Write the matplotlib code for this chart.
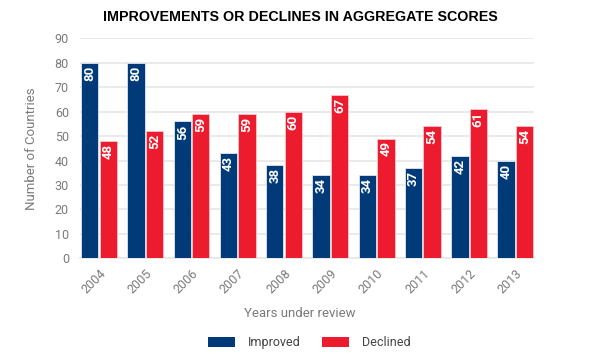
import numpy as np
import matplotlib.pyplot as plt
from matplotlib.patches import Patch

years = ["2004", "2005", "2006", "2007", "2008", "2009", "2010", "2011", "2012", "2013"]
improved = [80, 80, 56, 43, 38, 34, 34, 37, 42, 40]
declined = [48, 52, 59, 59, 60, 67, 49, 54, 61, 54]

blue = "#003a78"
red = "#ec1c2e"
grey = "#7a7a7a"

plt.rcParams["font.family"] = ["Roboto", "DejaVu Sans"]

fig = plt.figure(figsize=(6, 3.57), dpi=100)
ax = fig.add_axes([0.1335, 0.2765, 0.757, 0.6162])

x = np.arange(len(years))
w = 0.375
ax.bar(x - 0.2, improved, w, color=blue, edgecolor="#dfe6f0", linewidth=0.6, zorder=3)
ax.bar(x + 0.2, declined, w, color=red, edgecolor="#f7c6cb", linewidth=0.6, zorder=3)

for xi, v in zip(x, improved):
    ax.text(xi - 0.2, v - 1.2, str(v), rotation=90, ha="center", va="top",
            color="white", fontsize=9.5, fontweight="bold", zorder=4)
for xi, v in zip(x, declined):
    ax.text(xi + 0.2, v - 1.2, str(v), rotation=90, ha="center", va="top",
            color="white", fontsize=9.5, fontweight="bold", zorder=4)

ax.set_xlim(-0.41, 9.41)
ax.set_ylim(0, 90)
ax.set_yticks(range(0, 91, 10))
ax.set_xticks(x)
ax.set_xticklabels(years, rotation=45, ha="right", rotation_mode="anchor")
ax.tick_params(axis="both", length=0, colors=grey, labelsize=9)
ax.tick_params(axis="y", pad=8)
ax.tick_params(axis="x", pad=6)
ax.yaxis.grid(True, color="#e6e6e6", linewidth=1.2, zorder=0)
for s in ["top", "right", "left"]:
    ax.spines[s].set_visible(False)
ax.spines["bottom"].set_color("#e6e6e6")
ax.spines["bottom"].set_linewidth(1.2)

ax.set_ylabel("Number of Countries", color=grey, fontsize=9.5, labelpad=12)
fig.text(0.5, 0.122, "Years under review", ha="center", va="center", color=grey, fontsize=9.5)

fig.text(0.5, 0.952, "IMPROVEMENTS OR DECLINES IN AGGREGATE SCORES", ha="center", va="center",
         fontsize=10.3, fontweight="bold", family="Liberation Sans", color="black")

handles = [Patch(facecolor=blue, label="Improved"), Patch(facecolor=red, label="Declined")]
fig.legend(handles=handles, loc="center", bbox_to_anchor=(0.515, 0.04), ncol=2, frameon=False,
           fontsize=9, handlelength=2.2, handleheight=0.9, handletextpad=1.0,
           columnspacing=1.7, labelcolor="#444444")

fig.savefig("out.png", dpi=100)
